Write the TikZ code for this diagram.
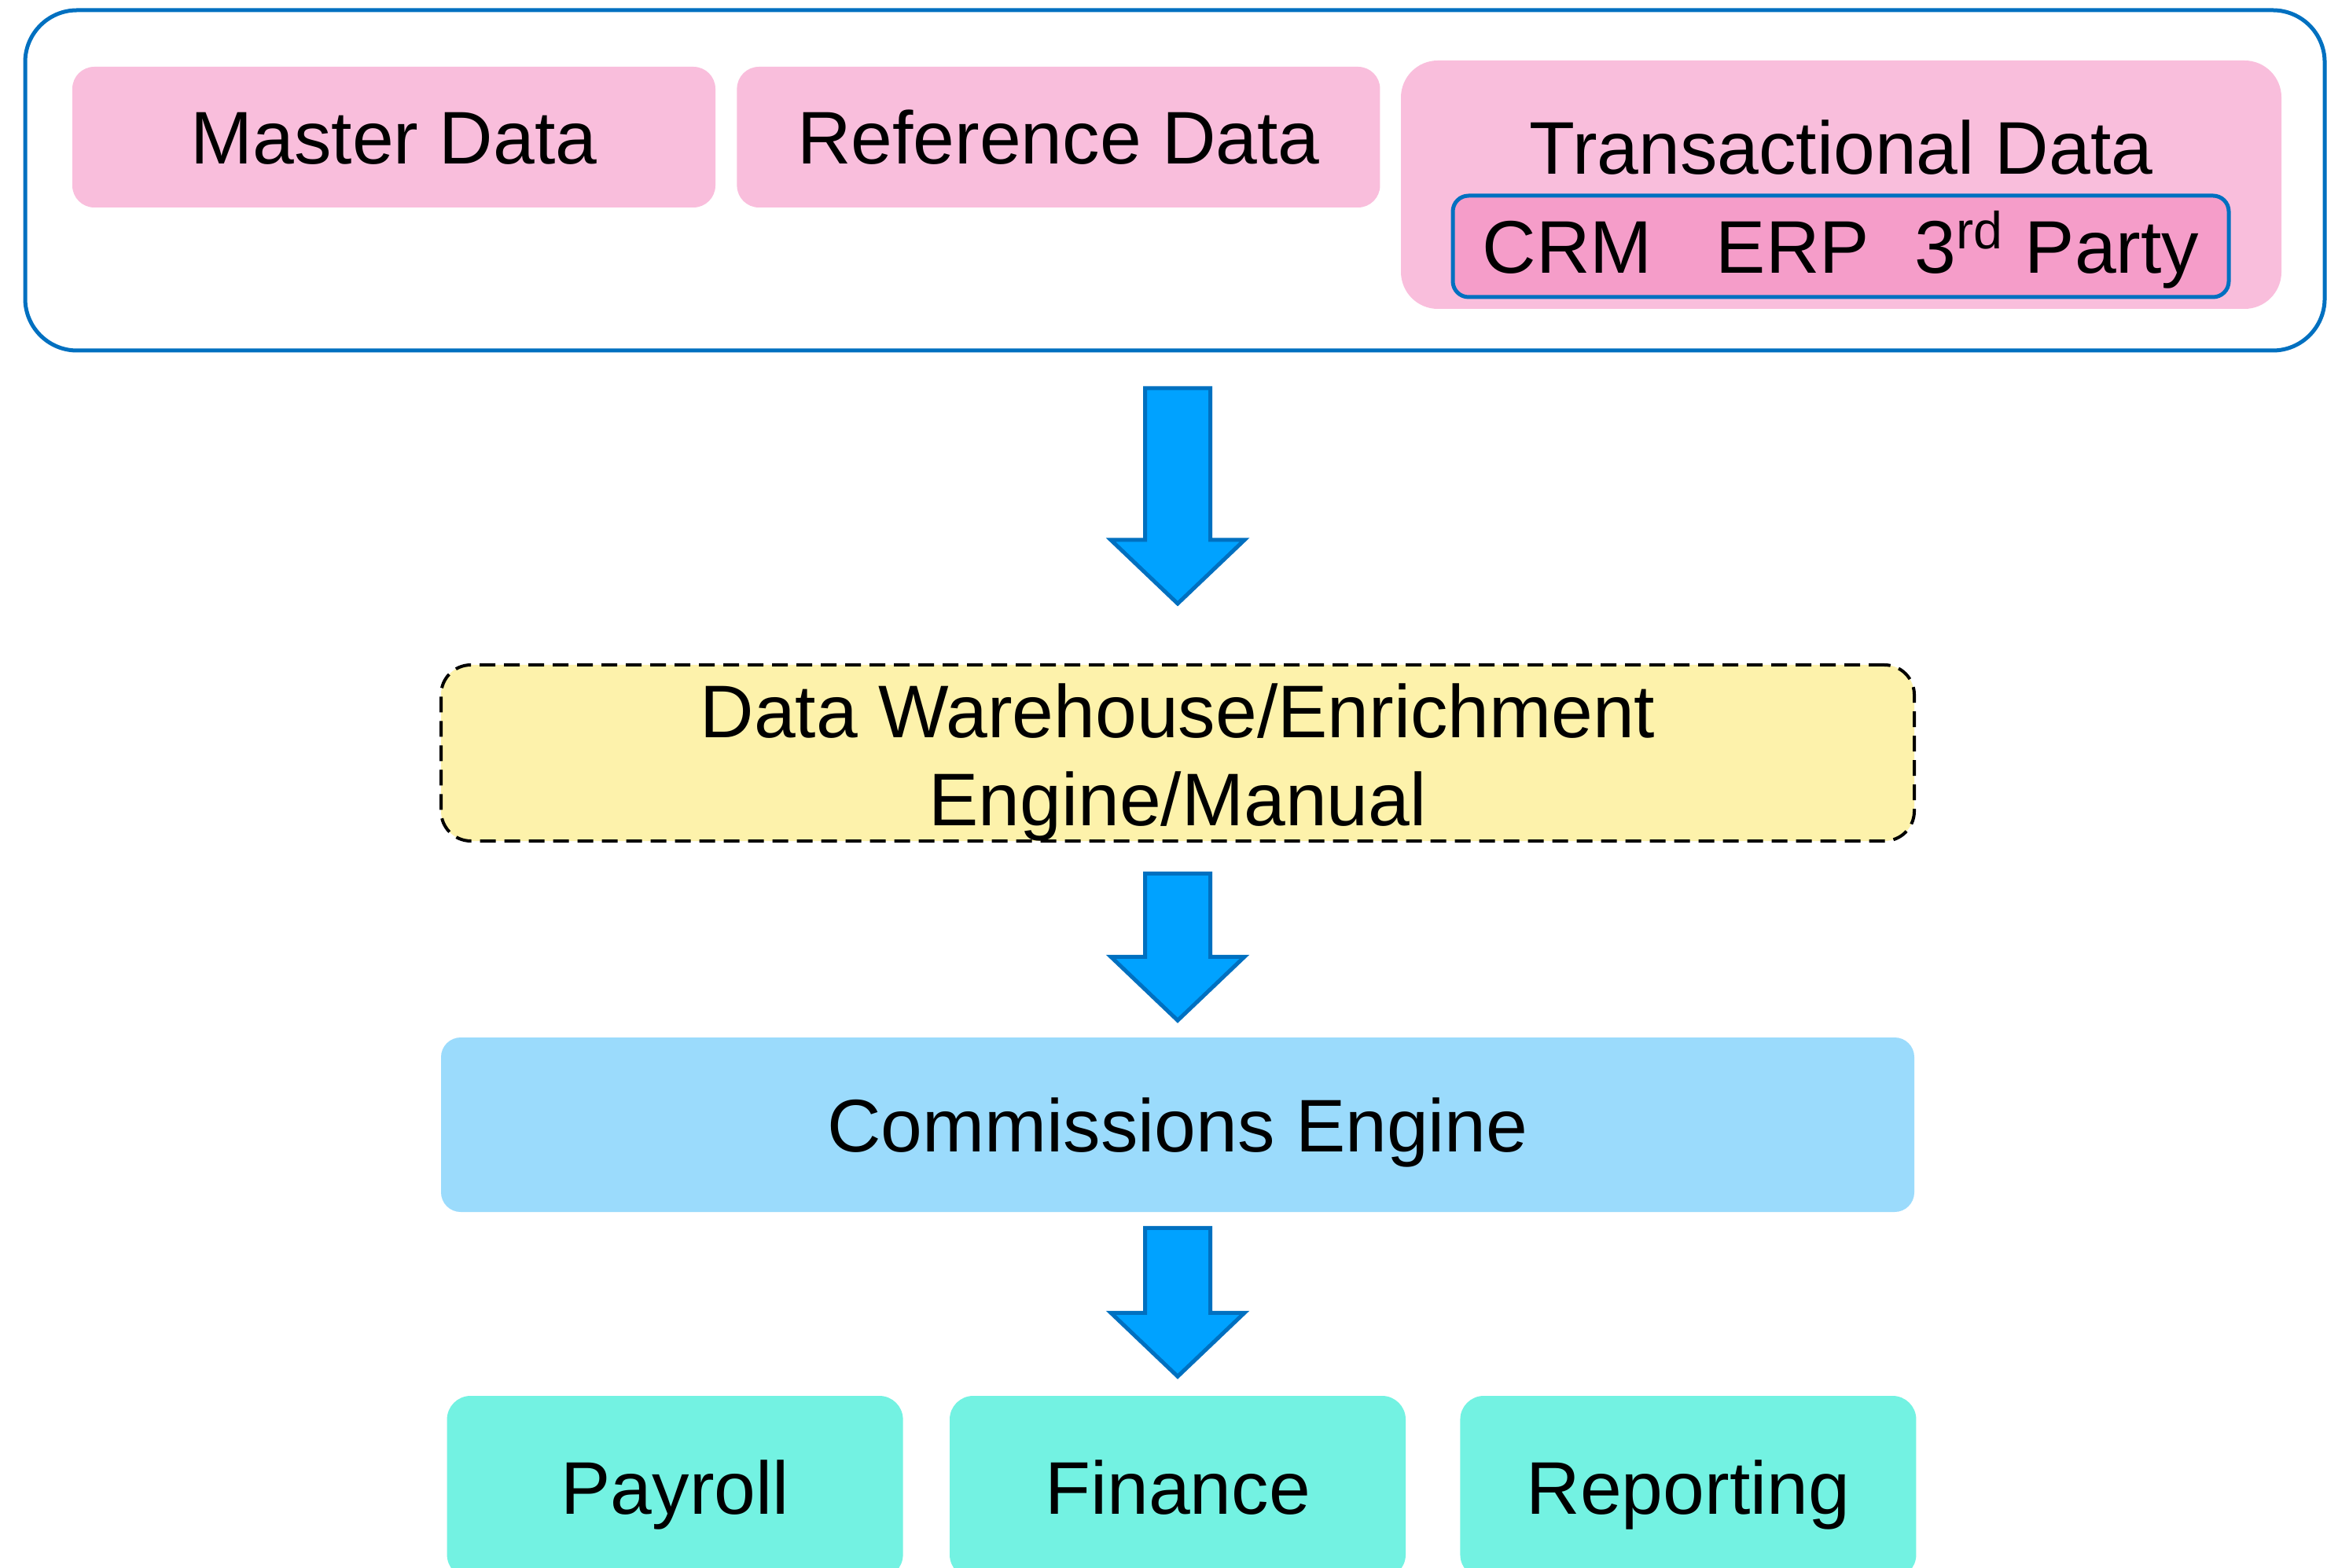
\documentclass[tikz,border=0pt]{standalone}
\usepackage{fontspec}
\setmainfont{Liberation Sans}
\usepackage{tikz}
\usetikzlibrary{positioning}
\definecolor{edgeblue}{HTML}{0070C0}
\definecolor{arrowblue}{HTML}{00A2FF}
\definecolor{sourcepink}{HTML}{F9BEDC}
\definecolor{systempink}{HTML}{F59DC9}
\definecolor{stageyellow}{HTML}{FDF2AB}
\definecolor{engineblue}{HTML}{9BDBFC}
\definecolor{outputcyan}{HTML}{73F2E2}
% block arrow below a node: node, top offset, shaft length
\newcommand{\flowarrow}[3]{\draw[flowarrow] (#1.north) ++(-0.415,#2) -- ++(0.83,0) -- ++(0,-#3) -- ++(0.435,0) -- ++(-0.85,-0.81) -- ++(-0.85,0.81) -- ++(0.435,0) -- cycle;}

\begin{document}
\begin{tikzpicture}[font=\fontsize{27}{32}\selectfont]
    % Define styles
    \tikzstyle{groupbox} = [rectangle, draw=edgeblue, line width=0.05cm, rounded corners=0.66cm, minimum width=29.25cm, minimum height=4.33cm]
    \tikzstyle{sourcebox} = [rectangle, fill=sourcepink, rounded corners=0.28cm, minimum width=8.18cm, minimum height=1.79cm, text height=0.69cm, text depth=0cm]
    \tikzstyle{systembox} = [rectangle, draw=edgeblue, line width=0.05cm, fill=systempink, rounded corners=0.2cm, minimum width=9.87cm, minimum height=1.29cm, text height=0.69cm, text depth=0cm]
    \tikzstyle{stagebox} = [rectangle, draw, dash pattern=on 0.2cm off 0.11cm, line width=0.04cm, fill=stageyellow, rounded corners=0.38cm, minimum width=18.74cm, minimum height=2.24cm]
    \tikzstyle{enginebox} = [rectangle, fill=engineblue, rounded corners=0.25cm, minimum width=18.74cm, minimum height=2.22cm, text height=0.69cm, text depth=0cm]
    \tikzstyle{outputbox} = [rectangle, fill=outputcyan, rounded corners=0.3cm, minimum width=5.8cm, minimum height=2.32cm, text height=0.69cm, text depth=0cm]
    \tikzstyle{flowarrow} = [draw=edgeblue, line width=0.05cm, fill=arrowblue, line join=miter]

    \path[use as bounding box, fill=white] (0,0) rectangle (29.6,19.94);

    % Sources
    \node[groupbox] (sources) at (14.945,17.645) {};
    \node[sourcebox] (master) at (5.01,18.195) {Master Data};
    \node[sourcebox, right=0.26cm of master] (reference) {Reference Data};
    \node[sourcebox, minimum width=11.2cm, minimum height=3.16cm, rounded corners=0.47cm] (transactional) at (23.42,17.59) {};
    \node[text height=0.69cm, text depth=0cm] (translabel) at (23.42,18.07) {Transactional Data};
    \node[systembox] (systems) at (23.415,16.805) {CRM\hspace{0.81cm}ERP\hspace{0.58cm}3\textsuperscript{rd} Party};

    % Stages
    \node[stagebox] (warehouse) at (14.98,10.36) {};
    \node[align=center] (warehouselabel) at (14.98,10.24) {Data Warehouse/Enrichment\\Engine/Manual};
    \node[enginebox] (engine) at (14.98,5.63) {Commissions Engine};

    % Outputs
    \node[outputbox] (finance) at (14.98,1.02) {Finance};
    \node[outputbox, left=0.58cm of finance] (payroll) {Payroll};
    \node[outputbox, right=0.68cm of finance] (reporting) {Reporting};

    % Arrows
    \flowarrow{warehouse}{3.50}{1.93}
    \flowarrow{engine}{2.08}{1.06}
    \flowarrow{finance}{2.13}{1.08}

\end{tikzpicture}
\end{document}
